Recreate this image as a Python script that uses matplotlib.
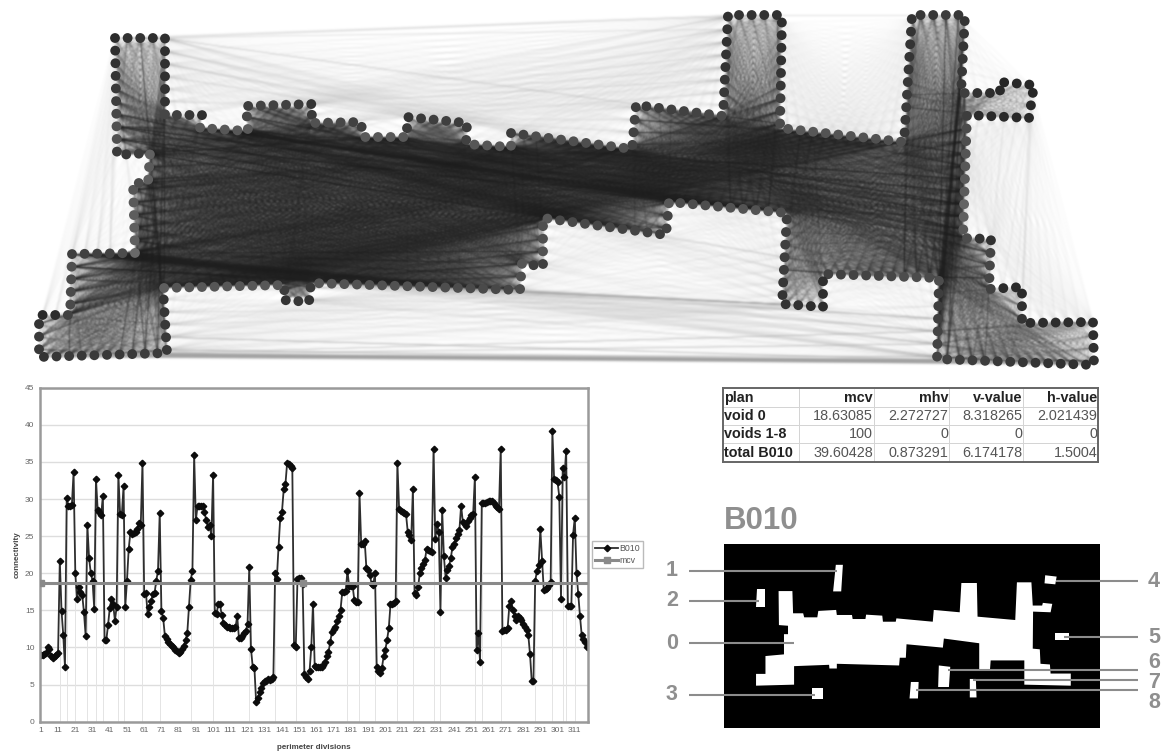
## Visibility graph of plan B010, connectivity chart, value table and void key

import numpy as np
import matplotlib
matplotlib.use("Agg")
import matplotlib.pyplot as plt
from matplotlib.collections import LineCollection
from matplotlib.patches import Polygon
from matplotlib.path import Path

plt.rcParams["font.family"] = ["Liberation Sans", "DejaVu Sans"]

W, H = 1161, 753

## CHART DATA ##

connectivity = [
    9, 9, 9.1, 9.2, 10, 9.8, 8.8, 8.6, 8.8, 9,
    9.3, 21.7, 14.9, 11.7, 7.4, 30.1, 29, 29.1, 29.2, 33.6,
    20, 16.5, 18.2, 17.5, 17.1, 14.8, 11.6, 26.5, 22, 20,
    19, 15.2, 32.7, 28.5, 28.3, 27.8, 30.4, 11, 11, 13,
    15.3, 16.5, 15.8, 13.6, 15.5, 33.3, 28, 27.8, 31.7, 15.5,
    19, 23.3, 25.5, 25.3, 25.4, 25.6, 25.9, 26.8, 26.5, 34.9,
    17.2, 17.4, 14.5, 15.5, 16.2, 17.2, 17.3, 19, 20.3, 28.1,
    14.9, 14, 11.6, 11.2, 10.8, 10.5, 10.2, 10, 9.7, 9.5,
    9.3, 9.4, 9.8, 10.2, 11, 11.9, 15.5, 19.1, 20.3, 35.9,
    27.2, 29.1, 29, 29, 29.1, 28.2, 27.2, 26.2, 26.5, 25,
    33.3, 14.6, 14.5, 15.9, 15.8, 14.4, 13.3, 13, 12.8, 12.7,
    12.6, 12.6, 12.6, 12.7, 14.2, 11.3, 11.3, 11.6, 11.9, 12.2,
    13.2, 20.8, 9.8, 7.4, 7.2, 2.6, 3.2, 4, 4.6, 5.2,
    5.5, 5.5, 5.7, 5.6, 5.8, 6, 20, 19.2, 23.6, 27.5,
    28.3, 31.3, 32, 34.9, 34.7, 34.4, 34.2, 10.3, 10, 19.2,
    19.4, 19.4, 18.5, 6.4, 6, 5.8, 6.8, 10, 15.9, 7.5,
    7.4, 7.4, 7.4, 7.4, 7.6, 8, 8.8, 9.4, 10.7, 12.1,
    12.5, 12.8, 13.6, 14.2, 15.1, 17.5, 17.5, 17.6, 20.3, 18.3,
    18.3, 18.3, 16.4, 16.1, 16.1, 30.8, 23.9, 24, 24.4, 20.7,
    20.4, 19.8, 18.6, 18.4, 20.1, 7.4, 6.8, 6.6, 7.2, 8.8,
    9.7, 11, 12.6, 15.8, 15.9, 16, 16.2, 34.9, 28.7, 28.4,
    28.2, 28.1, 28, 25.6, 25.1, 24.5, 31.3, 17.4, 17.1, 18.1,
    20, 20.7, 21.2, 21.8, 23.3, 23.2, 23, 22.9, 36.8, 24.6,
    26.6, 25.6, 14.8, 28.5, 22.3, 19.4, 20.4, 21, 22, 23.6,
    24, 24.8, 25.3, 25.8, 29.1, 26.9, 26.6, 26.4, 27, 27.4,
    27.8, 28, 33, 9.7, 11.9, 8.1, 29.4, 29.5, 29.5, 29.6,
    29.7, 29.7, 29.7, 29.5, 29, 28.9, 28.7, 36.8, 12.2, 12.3,
    12.4, 12.6, 15.6, 16.2, 15, 14.3, 13.7, 14.3, 14, 13.7,
    13.2, 12.8, 12.3, 11.7, 9.1, 5.5, 5.5, 18.9, 20.3, 21.1,
    25.9, 21.7, 17.7, 17.9, 18, 18.4, 18.8, 39.1, 32.7, 32.5,
    32.3, 30.3, 16.5, 34.2, 33, 36.5, 15.6, 15.6, 15.6, 25.2,
    27.5, 20.1, 17.2, 14.3, 11.7, 11.2, 10.8, 10,
]
divisions = list(range(1, len(connectivity) + 1))
mcv_value = 18.63085
mcv_marks = [0, 152]
drop_lines = [12, 16, 21, 28, 33, 37, 46, 49, 60, 70, 88, 101, 122, 137, 149,
              179, 186, 195, 208, 217, 229, 233, 253, 257, 268, 288, 298, 304,
              306, 311]

## TABLE DATA ##

table_head = ["plan", "mcv", "mhv", "v-value", "h-value"]
table_rows = [
    ["void 0", "18.63085", "2.272727", "8.318265", "2.021439"],
    ["voids 1-8", "100", "0", "0", "0"],
    ["total B010", "39.60428", "0.873291", "6.174178", "1.5004"],
]
table_widths = [76, 75, 75, 74, 75.5]

## NETWORK DATA (outline corners of the plan, in picture pixels) ##

outline = [
    (115, 38), (165, 38), (165, 115), (202, 115), (200, 128), (248, 131),
    (246, 106), (313, 104), (311, 123), (361, 122), (363, 137), (407, 137),
    (407, 117), (467, 123), (466, 144), (511, 147), (511, 133), (632, 149),
    (636, 105), (723, 116), (728, 15), (782, 15), (780, 128), (904, 142),
    (912, 15), (965, 15), (961, 93), (1000, 93), (1000, 82), (1034, 85),
    (1029, 118), (967, 115), (963, 238), (991, 239), (989, 289), (1022, 287),
    (1022, 323), (1093, 322), (1094, 365), (937, 359), (939, 278), (823, 274),
    (823, 307), (782, 304), (787, 213), (669, 202), (666, 235), (543, 218),
    (543, 267), (522, 263), (520, 290), (311, 283), (309, 302), (283, 300),
    (285, 285), (163, 288), (167, 353), (39, 357), (39, 315), (70, 315),
    (72, 254), (135, 253), (133, 183), (148, 183), (150, 153), (117, 155),
]

## PLAN DATA (traced units of the key panel) ##

main_void = [
    (382, 627), (423, 627), (425, 693), (455, 693), (458, 705), (497, 705),
    (500, 686), (553, 683), (555, 698), (600, 698), (602, 710), (640, 710),
    (642, 697), (690, 700), (692, 718), (730, 718), (732, 708), (840, 718),
    (843, 683), (920, 690), (925, 603), (971, 603), (973, 703), (1085, 713),
    (1090, 601), (1133, 601), (1137, 670), (1165, 670), (1167, 662),
    (1195, 665), (1190, 690), (1138, 688), (1137, 798), (1158, 800),
    (1160, 843), (1188, 845), (1190, 872), (1250, 872), (1250, 908),
    (1112, 905), (1112, 833), (1012, 833), (1010, 860), (978, 860),
    (978, 782), (873, 768), (870, 795), (762, 785), (760, 825), (742, 825),
    (740, 848), (555, 843), (555, 857), (533, 857), (532, 846), (428, 850),
    (428, 905), (315, 908), (315, 873), (343, 873), (343, 820), (398, 815),
    (398, 755), (410, 755), (410, 730), (383, 728),
]
small_voids = [
    [(552, 549), (573, 549), (568, 628), (544, 628)],
    [(318, 621), (341, 621), (341, 674), (316, 674)],
    [(482, 915), (515, 915), (515, 947), (482, 947)],
    [(1174, 580), (1208, 584), (1204, 607), (1172, 604)],
    [(1203, 752), (1246, 752), (1246, 772), (1203, 772)],
    [(858, 848), (892, 852), (888, 912), (856, 912)],
    [(950, 888), (968, 888), (970, 943), (950, 943)],
    [(775, 897), (798, 897), (796, 946), (771, 946)],
]
# label, label y, leader from x, leader to x, leader y
left_labels = [("1", 565, 117, 555, 568), ("2", 655, 117, 325, 655),
               ("0", 782, 117, 428, 781), ("3", 935, 117, 490, 935)]
right_labels = [("4", 600, 1205, 1450, 597), ("5", 765, 1230, 1450, 762),
                ("6", 838, 885, 1450, 862), ("7", 898, 960, 1450, 892),
                ("8", 958, 790, 1450, 922)]


def pixelAxes(fig, x0, y0, x1, y1):
    return fig.add_axes([x0 / W, 1 - y1 / H, (x1 - x0) / W, (y1 - y0) / H])


def softFilter(grey, sigma):
    """agg filter: smears the alpha of an artist so the lines go soft
    like the scanned figure, colour stays one grey"""
    pad = int(3 * sigma) + 1
    kernel = np.exp(-0.5 * (np.arange(-pad, pad + 1) / sigma) ** 2)
    kernel /= kernel.sum()

    def smear(image, dpi):
        a = np.pad(image[:, :, 3], pad)
        for axis in (0, 1):
            a = np.apply_along_axis(np.convolve, axis, a, kernel, mode="same")
        out = np.full(a.shape + (4,), grey, dtype=float)
        out[:, :, 3] = np.clip(a, 0, 1)
        return out, -pad, -pad

    return smear


fig = plt.figure(figsize=(W / 100, H / 100), dpi=100)

## NETWORK ##

ax_net = pixelAxes(fig, 0, 0, W, 375)
ax_net.set_xlim(0, W)
ax_net.set_ylim(375, 0)
ax_net.axis("off")

corners = np.array(outline + outline[:1], dtype=float)
steps = np.hypot(*np.diff(corners, axis=0).T)
along = np.concatenate([[0], np.cumsum(steps)])
spots = np.linspace(0, along[-1], len(connectivity), endpoint=False)
nodes = np.column_stack([np.interp(spots, along, corners[:, 0]),
                         np.interp(spots, along, corners[:, 1])])

left, right = np.triu_indices(len(nodes), k=2)
t = np.linspace(0.02, 0.98, 40)[None, :, None]
samples = nodes[left][:, None, :] * (1 - t) + nodes[right][:, None, :] * t
plan_path = Path(corners, closed=True)
inside = plan_path.contains_points(samples.reshape(-1, 2)).reshape(len(left), -1)
seen_in = inside.all(axis=1)
seen_out = (~inside).all(axis=1)

segments = np.stack([nodes[left], nodes[right]], axis=1)
outer = LineCollection(segments[seen_out], colors="#8c8c8c", linewidths=0.4, alpha=0.13)
outer.set_agg_filter(softFilter(0.58, 1.0))
ax_net.add_collection(outer)
inner = LineCollection(segments[seen_in], colors="#101010", linewidths=0.5, alpha=0.22)
inner.set_agg_filter(softFilter(0.09, 0.8))
ax_net.add_collection(inner)

degree = (np.bincount(left[seen_in], minlength=len(nodes))
          + np.bincount(right[seen_in], minlength=len(nodes)))
shade = 0.13 + 0.28 * degree / degree.max()
ax_net.scatter(nodes[:, 0], nodes[:, 1], s=50, c=np.column_stack([shade] * 3),
               linewidths=0, zorder=3)

## LINE CHART ##

ax = pixelAxes(fig, 40, 387.7, 587.7, 721.7)
for d in drop_lines:
    ax.axvline(d, ymax=connectivity[d - 1] / 45, color="#e4e4e4", lw=0.7, zorder=1)
ax.plot(divisions, [mcv_value] * len(divisions), color="#8a8a8a", lw=2.2,
        marker="s", ms=4.5, markevery=mcv_marks, label="mcv", zorder=3)
ax.plot(divisions, connectivity, color="#2e2e2e", lw=1.3, marker="D", ms=3.3,
        mfc="#0c0c0c", mec="#0c0c0c", label="B010", zorder=2)

ax.set_xlim(0.5, len(divisions) + 0.5)
ax.set_ylim(0, 45)
ax.set_yticks(range(0, 46, 5))
ax.set_xticks(divisions[::10])
ax.tick_params(length=0, labelsize=6, labelcolor="#666666", pad=4)
ax.yaxis.grid(True, color="#dddddd", lw=1)
ax.set_axisbelow(True)
for s in ax.spines.values():
    s.set_color("#9a9a9a")
    s.set_linewidth(1.8)
ax.set_ylabel("connectivity", fontsize=5.8, fontweight="bold", color="#444444", labelpad=3)
ax.set_xlabel("perimeter divisions", fontsize=5.8, fontweight="bold", color="#444444", labelpad=7)

handles, labels = ax.get_legend_handles_labels()
ax.legend(handles[::-1], labels[::-1], loc="center left", bbox_to_anchor=(1.008, 0.5),
          fontsize=6.3, labelcolor="#555555", fancybox=False, edgecolor="#bbbbbb",
          framealpha=1, borderpad=0.35, labelspacing=0.35, handlelength=2.6,
          handletextpad=0.2, borderaxespad=0)

## TABLE ##

ax_tab = pixelAxes(fig, 723, 388.4, 1098.5, 461.8)
ax_tab.set_xticks([])
ax_tab.set_yticks([])
for s in ax_tab.spines.values():
    s.set_color("#666666")
    s.set_linewidth(1.4)
    s.set_zorder(5)
tab = ax_tab.table(cellText=[table_head] + table_rows,
                   colWidths=[w / sum(table_widths) for w in table_widths],
                   bbox=[0, 0, 1, 1], cellLoc="right")
tab.auto_set_font_size(False)
for (r, c), cell in tab.get_celld().items():
    cell.set_edgecolor("#d4d4d4")
    cell.set_linewidth(0.7)
    cell.PAD = 0.012
    bold = r == 0 or c == 0
    cell.set_text_props(fontsize=10.4, color="#222222" if bold else "#555555",
                        fontweight="bold" if bold else "normal",
                        ha="left" if c == 0 else "right")

## PLAN KEY ##

ax_key = pixelAxes(fig, 650, 380, W, H)
ax_key.set_xlim(0, 1518)
ax_key.set_ylim(1108, 0)
ax_key.axis("off")
ax_key.add_patch(plt.Rectangle((220, 488), 1117, 547, color="black", lw=0))
ax_key.add_patch(Polygon(main_void, closed=True, fc="white", ec="none"))
for v in small_voids:
    ax_key.add_patch(Polygon(v, closed=True, fc="white", ec="none"))
ax_key.text(218, 420, "B010", fontsize=22.5, fontweight="bold", color="#8f8f8f",
            ha="left", va="center")
for lab, ly, x0, x1, y in left_labels + right_labels:
    ax_key.plot([x0, x1], [y, y], color="#8c8c8c", lw=1.5, solid_capstyle="butt")
    tx = 65 if x0 == 117 else 1497
    ax_key.text(tx, ly, lab, fontsize=15.5, fontweight="bold", color="#8f8f8f",
                ha="center", va="center")

fig.savefig("out.png", dpi=100)
